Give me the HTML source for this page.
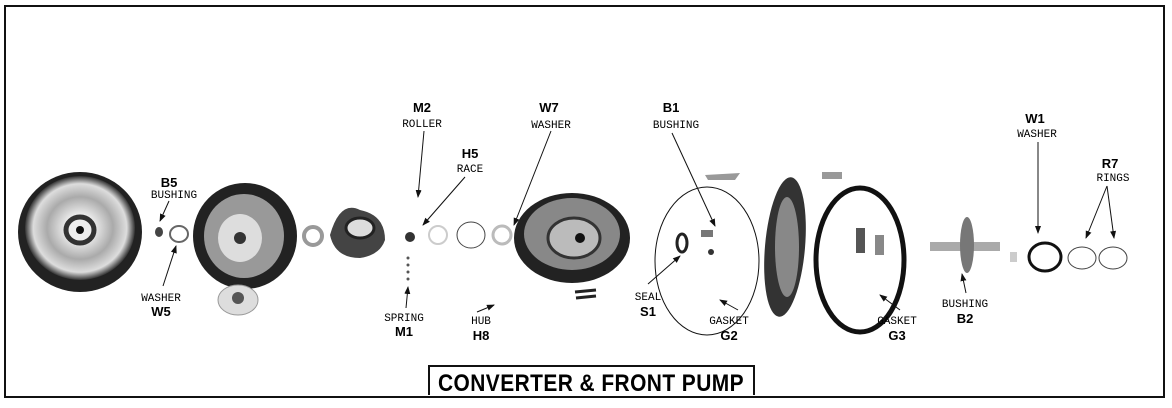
<!DOCTYPE html>
<html><head><meta charset="utf-8"><style>
html,body{margin:0;padding:0;background:#fff;width:1172px;height:408px;overflow:hidden}
svg{display:block}
.b{font-family:"Liberation Sans",sans-serif;font-weight:bold;font-size:13px;text-anchor:middle}
.s{font-family:"Liberation Mono",monospace;font-size:11px;text-anchor:middle}
line{stroke:#111;stroke-width:1}
</style></head><body>
<svg width="1172" height="408" viewBox="0 0 1172 408" xmlns="http://www.w3.org/2000/svg">
<defs>
<marker id="a" markerWidth="8" markerHeight="8" refX="7" refY="4" orient="auto" markerUnits="userSpaceOnUse"><path d="M0,1 L8,4 L0,7 z" fill="#111"/></marker>
<radialGradient id="g1" cx="50%" cy="50%" r="50%"><stop offset="0" stop-color="#222"/><stop offset="0.25" stop-color="#eee"/><stop offset="0.6" stop-color="#aaa"/><stop offset="0.85" stop-color="#ddd"/><stop offset="1" stop-color="#333"/></radialGradient>
</defs>
<rect x="5" y="6" width="1159" height="391" fill="none" stroke="#111" stroke-width="2"/>
<!-- converter cover -->
<ellipse cx="80" cy="232" rx="62" ry="60" fill="#222"/>
<ellipse cx="80" cy="228" rx="55" ry="52" fill="url(#g1)"/>
<ellipse cx="80" cy="230" rx="14" ry="13" fill="#eee" stroke="#333" stroke-width="5"/>
<circle cx="80" cy="230" r="4" fill="#111"/>
<!-- B5, W5 -->
<ellipse cx="159" cy="232" rx="4" ry="5" fill="#444"/>
<ellipse cx="179" cy="234" rx="9" ry="8" fill="none" stroke="#666" stroke-width="2"/>
<!-- turbine -->
<ellipse cx="245" cy="236" rx="52" ry="53" fill="#222"/>
<ellipse cx="244" cy="236" rx="40" ry="42" fill="#999"/>
<ellipse cx="240" cy="238" rx="22" ry="24" fill="#ddd"/>
<circle cx="240" cy="238" r="6" fill="#333"/>
<!-- small plate -->
<ellipse cx="238" cy="300" rx="20" ry="15" fill="#ddd" stroke="#999"/>
<circle cx="238" cy="298" r="6" fill="#555"/>
<!-- washer -->
<ellipse cx="276" cy="236" rx="0" ry="0"/>
<ellipse cx="313" cy="236" rx="9" ry="9" fill="none" stroke="#999" stroke-width="4"/>
<!-- stator -->
<path d="M330,235 Q340,200 360,210 Q385,215 385,240 Q380,255 360,258 Q335,258 330,235z" fill="#444"/>
<ellipse cx="360" cy="228" rx="14" ry="10" fill="#ddd" stroke="#222" stroke-width="3"/>
<!-- roller & race -->
<circle cx="410" cy="237" r="5" fill="#333"/>
<ellipse cx="438" cy="235" rx="9" ry="9" fill="none" stroke="#ccc" stroke-width="2"/>
<circle cx="408" cy="258" r="1.5" fill="#555"/><circle cx="408" cy="265" r="1.5" fill="#555"/><circle cx="408" cy="272" r="1.5" fill="#555"/><circle cx="408" cy="279" r="1.5" fill="#555"/>
<ellipse cx="471" cy="235" rx="14" ry="13" fill="none" stroke="#444" stroke-width="1"/>
<ellipse cx="502" cy="235" rx="9" ry="9" fill="none" stroke="#bbb" stroke-width="3"/>
<!-- pump impeller -->
<ellipse cx="572" cy="238" rx="58" ry="45" fill="#222"/>
<ellipse cx="572" cy="234" rx="48" ry="36" fill="#888"/>
<ellipse cx="574" cy="238" rx="26" ry="20" fill="#bbb" stroke="#333" stroke-width="3"/>
<circle cx="580" cy="238" r="5" fill="#111"/>
<path d="M575,292 L596,290 M576,298 L596,296" stroke="#222" stroke-width="3"/>
<!-- gasket G2 -->
<ellipse cx="707" cy="261" rx="52" ry="74" fill="none" stroke="#111" stroke-width="1"/>
<ellipse cx="682" cy="243" rx="5" ry="9" fill="none" stroke="#222" stroke-width="3"/>
<rect x="701" y="230" width="12" height="7" fill="#777"/>
<circle cx="711" cy="252" r="3" fill="#333"/>
<!-- pump body -->
<ellipse cx="785" cy="247" rx="20" ry="70" fill="#333" transform="rotate(5 785 247)"/>
<ellipse cx="787" cy="247" rx="12" ry="50" fill="#888"/>
<path d="M705,175 L740,173 L735,180 L708,180z" fill="#999"/>
<path d="M822,172 L842,172 L842,179 L822,179z" fill="#999"/>
<!-- gasket G3 -->
<ellipse cx="860" cy="260" rx="44" ry="72" fill="none" stroke="#111" stroke-width="5"/>
<rect x="816" y="228" width="9" height="25" fill="#555" transform="translate(40 0)"/>
<rect x="875" y="235" width="9" height="20" fill="#888"/>
<!-- shaft -->
<rect x="930" y="242" width="70" height="9" fill="#aaa"/>
<ellipse cx="967" cy="245" rx="7" ry="28" fill="#777"/>
<rect x="1010" y="252" width="7" height="10" fill="#ccc"/>
<!-- W1, R7 -->
<ellipse cx="1045" cy="257" rx="16" ry="14" fill="none" stroke="#111" stroke-width="3"/>
<ellipse cx="1082" cy="258" rx="14" ry="11" fill="none" stroke="#444" stroke-width="1"/>
<ellipse cx="1113" cy="258" rx="14" ry="11" fill="none" stroke="#444" stroke-width="1"/>
<!-- labels -->
<text class="b" x="169" y="187">B5</text><text class="s" x="174" y="198">BUSHING</text>
<line x1="169" y1="201" x2="160" y2="221" marker-end="url(#a)"/>
<text class="s" x="161" y="301">WASHER</text><text class="b" x="161" y="316">W5</text>
<line x1="163" y1="286" x2="176" y2="246" marker-end="url(#a)"/>
<text class="b" x="422" y="112">M2</text><text class="s" x="422" y="127">ROLLER</text>
<line x1="424" y1="131" x2="418" y2="197" marker-end="url(#a)"/>
<text class="b" x="470" y="158">H5</text><text class="s" x="470" y="172">RACE</text>
<line x1="465" y1="177" x2="423" y2="225" marker-end="url(#a)"/>
<text class="b" x="549" y="112">W7</text><text class="s" x="551" y="128">WASHER</text>
<line x1="551" y1="131" x2="514" y2="225" marker-end="url(#a)"/>
<text class="b" x="671" y="112">B1</text><text class="s" x="676" y="128">BUSHING</text>
<line x1="672" y1="133" x2="715" y2="226" marker-end="url(#a)"/>
<text class="b" x="1035" y="123">W1</text><text class="s" x="1037" y="137">WASHER</text>
<line x1="1038" y1="142" x2="1038" y2="233" marker-end="url(#a)"/>
<text class="b" x="1110" y="168">R7</text><text class="s" x="1113" y="181">RINGS</text>
<line x1="1107" y1="186" x2="1086" y2="238" marker-end="url(#a)"/>
<line x1="1107" y1="186" x2="1114" y2="238" marker-end="url(#a)"/>
<text class="s" x="404" y="321">SPRING</text><text class="b" x="404" y="336">M1</text>
<line x1="406" y1="308" x2="408" y2="287" marker-end="url(#a)"/>
<text class="s" x="481" y="324">HUB</text><text class="b" x="481" y="340">H8</text>
<line x1="477" y1="312" x2="494" y2="305" marker-end="url(#a)"/>
<text class="s" x="648" y="300">SEAL</text><text class="b" x="648" y="316">S1</text>
<line x1="648" y1="284" x2="680" y2="256" marker-end="url(#a)"/>
<text class="s" x="729" y="324">GASKET</text><text class="b" x="729" y="340">G2</text>
<line x1="738" y1="310" x2="720" y2="300" marker-end="url(#a)"/>
<text class="s" x="897" y="324">GASKET</text><text class="b" x="897" y="340">G3</text>
<line x1="900" y1="310" x2="880" y2="295" marker-end="url(#a)"/>
<text class="s" x="965" y="307">BUSHING</text><text class="b" x="965" y="323">B2</text>
<line x1="966" y1="293" x2="962" y2="274" marker-end="url(#a)"/>
<!-- title -->
<path d="M429,395 L429,366 L754,366 L754,395" fill="none" stroke="#111" stroke-width="2"/>
<text x="591" y="391" text-anchor="middle" style="font-family:'Liberation Sans',sans-serif;font-weight:bold;font-size:24px;letter-spacing:0.5px" textLength="306" lengthAdjust="spacingAndGlyphs">CONVERTER &amp; FRONT PUMP</text>
</svg>
</body></html>
